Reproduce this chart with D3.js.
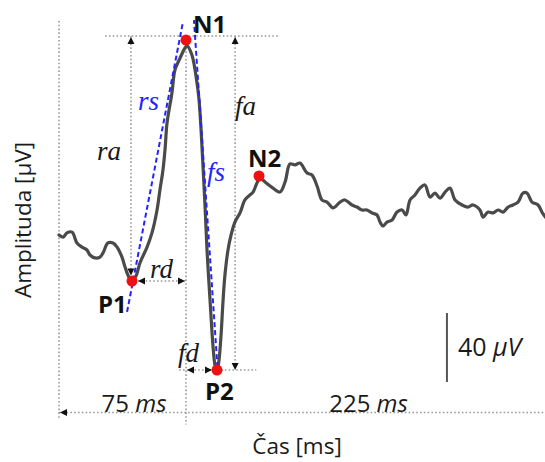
<!DOCTYPE html>
<html><head><meta charset="utf-8">
<script src="https://cdn.jsdelivr.net/npm/d3@7"></script>
<style>body{margin:0;background:#fff}svg{display:block}</style>
</head><body>
<script>
// ---- data (time in ms, amplitude in µV) ----
const timeMs = [-75.0,-72.6,-70.3,-67.3,-64.4,-61.4,-58.5,-56.7,-53.7,-50.8,
  -49.0,-46.1,-43.1,-40.7,-37.8,-36.0,-34.3,-31.9,-29.5,-27.2,
  -23.0,-20.1,-17.1,-15.4,-13.6,-12.4,-11.2,-8.3,-6.5,-3.5,
  -0.6,0.6,3.5,6.5,7.7,8.9,10.0,11.2,12.4,14.2,
  15.9,17.1,18.3,19.5,20.7,21.9,23.0,24.8,26.6,28.9,
  31.9,34.8,37.8,39.6,41.9,43.7,46.7,51.4,55.5,58.5,
  61.4,64.4,67.3,71.5,74.4,77.4,80.3,83.3,86.8,91.0,
  93.9,98.0,101.0,103.9,106.9,109.8,112.8,114.6,116.3,118.7,
  121.7,124.6,127.6,129.9,132.3,135.2,138.2,141.1,144.1,147.0,
  150.0,153.0,155.9,158.9,163.0,166.5,169.5,173.6,175.4,178.4,
  181.3,184.3,187.2,190.2,193.1,196.1,199.0,201.4,204.3,207.9,
  210.2,212.6];
const amplitudeUv = [2.9,1.7,4.1,4.6,-1.7,-4.1,-5.8,-8.7,-10.4,-9.9,
  -7.5,-1.7,-1.7,-4.1,-9.9,-15.7,-20.3,-23.8,-20.9,-13.3,
  -4.1,4.1,17.4,29.0,40.6,52.2,67.8,85.2,98.6,105.5,
  111.3,112.5,107.2,91.0,81.2,63.8,43.5,20.3,-5.8,-34.8,
  -60.9,-72.5,-76.5,-69.6,-55.1,-34.8,-20.3,-5.8,2.9,10.4,
  15.7,23.2,26.1,27.8,33.0,35.9,33.6,30.1,27.8,33.6,
  44.1,43.5,44.6,38.8,37.7,31.3,23.2,22.0,18.6,22.0,
  23.2,20.3,19.1,17.4,17.4,15.7,14.5,10.4,8.1,10.4,
  11.6,16.2,17.4,14.5,23.2,26.1,30.1,31.9,24.9,27.2,
  24.3,27.8,30.1,23.2,20.3,19.1,20.3,17.4,13.3,16.2,
  15.7,17.4,16.2,19.1,20.3,22.0,27.2,27.2,22.0,20.3,
  16.2,12.8];
const peakNames = ["N1","P1","N2","P2"];
const peakTimeMs = [0, -31.9, 43.1, 18.3];
const peakAmpUv = [115.9, -23.8, 37.1, -75.4];
const rsLineTimeMs = [-34.8, -1.8];
const rsLineAmpUv = [-41.7, 126.4];
const fsLineTimeMs = [18.9, 4.7];
const fsLineAmpUv = [-78.3, 127.5];
const segmentLabels = ["75", "225"];
const scaleBarUv = 40;
const xTitle = "Čas [ms]";
const yTitle = "Amplituda [μV]";

// ---- layout ----
const W = 545, H = 462;
const svg = d3.select("body").append("svg").attr("width", W).attr("height", H);
const x = d3.scaleLinear().domain([-75, 225]).range([59, 567]);
const y = d3.scaleLinear().domain([-100, 120]).range([412.5, 33]);

const dotGray = "#9a9a9a";
function dotted(x1, y1, x2, y2) {
  svg.append("line").attr("x1", x1).attr("y1", y1).attr("x2", x2).attr("y2", y2)
    .attr("stroke", dotGray).attr("stroke-width", 1.6).attr("stroke-dasharray", "1.6 2.2");
}
function arrow(tx, ty, dir) { // tip position, direction
  const L = 7, h = 3.5;
  let p;
  if (dir === "up") p = [[tx,ty],[tx-h,ty+L],[tx+h,ty+L]];
  if (dir === "down") p = [[tx,ty],[tx-h,ty-L],[tx+h,ty-L]];
  if (dir === "left") p = [[tx,ty],[tx+L,ty-h],[tx+L,ty+h]];
  if (dir === "right") p = [[tx,ty],[tx-L,ty-h],[tx-L,ty+h]];
  svg.append("path").attr("d", "M" + p.join("L") + "Z").attr("fill", "#111");
}

const N1 = {x: x(peakTimeMs[0]), y: y(peakAmpUv[0])};
const P1 = {x: x(peakTimeMs[1]), y: y(peakAmpUv[1])};
const N2 = {x: x(peakTimeMs[2]), y: y(peakAmpUv[2])};
const P2 = {x: x(peakTimeMs[3]), y: y(peakAmpUv[3])};
const topY = y(118.3);
const baseY = y(-100);
const raX = x(-32.5), faX = x(29);

// reference dotted lines
dotted(x(-75), y(127), x(-75), y(-104));
dotted(x(-47.8), topY, x(55.5), topY);
dotted(raX, topY, raX, P1.y - 6);
dotted(x(0), topY + 4, x(0), y(-107));
dotted(faX, topY, faX, P2.y);
dotted(P1.x + 6, P1.y, x(0), P1.y);
dotted(x(-4), P2.y, x(41.5), P2.y);
dotted(x(-75), baseY, W, baseY);

arrow(raX, topY + 1, "up");
arrow(raX, P1.y - 5.5, "down");
arrow(faX, topY + 1, "up");
arrow(faX, P2.y, "down");
arrow(P1.x + 6, P1.y, "left");
arrow(x(0) - 1, P1.y, "right");
arrow(x(0) + 1, P2.y, "left");
arrow(P2.x - 5, P2.y, "right");
arrow(x(-75) + 1, baseY, "left");

// signal
const pts = timeMs.map((t, i) => [x(t), y(amplitudeUv[i])]);
svg.append("path").attr("d", d3.line().curve(d3.curveCatmullRom.alpha(0.5))(pts))
  .attr("fill", "none").attr("stroke", "#4a4a4a").attr("stroke-width", 3.2)
  .attr("stroke-linejoin", "round").attr("stroke-linecap", "round");

// slope lines
const blue = "#2323ff";
[[rsLineTimeMs, rsLineAmpUv], [fsLineTimeMs, fsLineAmpUv]].forEach(([ts, as]) => {
  svg.append("line").attr("x1", x(ts[0])).attr("y1", y(as[0]))
    .attr("x2", x(ts[1])).attr("y2", y(as[1]))
    .attr("stroke", blue).attr("stroke-width", 2).attr("stroke-dasharray", "5 3");
});

// peaks
svg.selectAll("circle.pk").data(peakNames).enter().append("circle")
  .attr("cx", (d, i) => x(peakTimeMs[i])).attr("cy", (d, i) => y(peakAmpUv[i]))
  .attr("r", 5.5).attr("fill", "#f01010");

const sans = "'Open Sans', 'Noto Sans', sans-serif";
const serif = "'Liberation Serif', 'Times New Roman', serif";
function txt(s, tx, ty, o = {}) {
  return svg.append("text").attr("x", tx).attr("y", ty).text(s)
    .attr("font-family", o.family || sans).attr("font-size", o.size || 21)
    .attr("font-weight", o.weight || "normal").attr("font-style", o.style || "normal")
    .attr("fill", o.fill || "#1a1a1a").attr("text-anchor", o.anchor || "start");
}
const bold = {weight: "bold", size: 24, fill: "#111"};
txt(peakNames[0], N1.x + 7, N1.y - 7, bold);
txt(peakNames[1], P1.x - 34, P1.y + 32, bold);
txt(peakNames[2], N2.x - 11, N2.y - 9, bold);
txt(peakNames[3], P2.x - 12, P2.y + 30, bold);

const it = {family: serif, style: "italic", size: 27};
txt("ra", raX - 34, (topY + P1.y) / 2 + 2, it);
txt("fa", faX, y(72.5), it);
txt("rd", x(-21.3), y(-22), it);
txt("fd", x(-4.7), y(-70.7), it);
txt("rs", x(-28.3), y(75.4), {...it, fill: blue});
txt("fs", x(12.4), y(34.2), {...it, fill: blue});

// segment duration labels
function msLabel(num, cx) {
  const t = svg.append("text").attr("x", cx).attr("y", baseY - 1)
    .attr("font-family", sans).attr("font-size", 24).attr("fill", "#1a1a1a")
    .attr("text-anchor", "middle");
  t.append("tspan").text(num + " ");
  t.append("tspan").attr("font-style", "italic").text("ms");
}
msLabel(segmentLabels[0], x(-30.7));
msLabel(segmentLabels[1], x(107.8));

// scale bar
const sbT = 154.1, sbBottom = -82.3;
svg.append("line").attr("x1", x(sbT)).attr("x2", x(sbT))
  .attr("y1", y(sbBottom)).attr("y2", y(sbBottom + scaleBarUv))
  .attr("stroke", "#555").attr("stroke-width", 2);
const sbl = svg.append("text").attr("x", x(sbT) + 11).attr("y", y(sbBottom + scaleBarUv / 2) + 9)
  .attr("font-family", sans).attr("font-size", 25).attr("fill", "#1a1a1a");
sbl.append("tspan").text(scaleBarUv + " ");
sbl.append("tspan").attr("font-style", "italic").text("μV");

// axis titles
txt(xTitle, 297, 454, {anchor: "middle", size: 22.5});
svg.append("text").attr("transform", "translate(31,220) rotate(-90)")
  .attr("text-anchor", "middle").attr("font-family", sans).attr("font-size", 22.5)
  .attr("fill", "#1a1a1a").text(yTitle);
</script>
</body></html>
